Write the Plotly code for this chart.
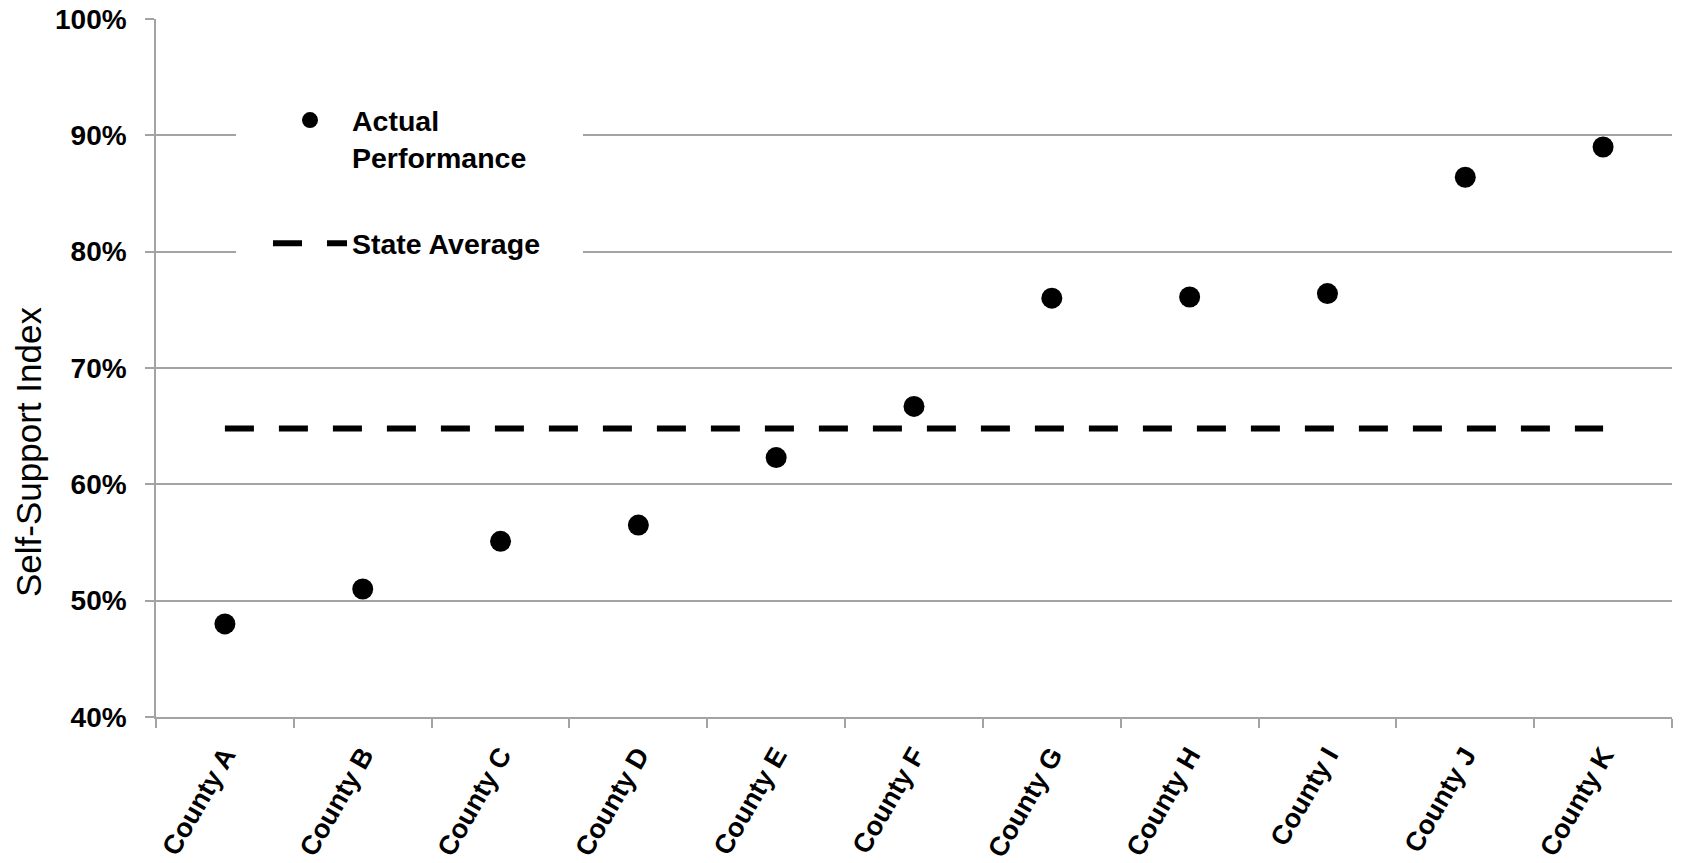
import plotly.graph_objects as go

# County labels and self-support index values (fractions)
counties = ["County A", "County B", "County C", "County D", "County E", "County F",
            "County G", "County H", "County I", "County J", "County K"]
actual_performance = [0.480, 0.510, 0.551, 0.565, 0.623, 0.667,
                      0.760, 0.761, 0.764, 0.864, 0.890]
state_average = 0.648

y_tickvals = [0.4, 0.5, 0.6, 0.7, 0.8, 0.9, 1.0]
y_ticktext = ["40%", "50%", "60%", "70%", "80%", "90%", "100%"]

FONT = "Liberation Sans, Arial, Helvetica, sans-serif"
GRID = "#a3a3a3"

# plot-area geometry in pixels, used to place the legend panel and axis title
PLOT_L, PLOT_W = 156, 1516
PLOT_T, PLOT_H = 19, 698

fig = go.Figure()

fig.add_trace(go.Scatter(
    x=counties,
    y=actual_performance,
    mode="markers",
    name="Actual<br>Performance",
    legendgroup="actual",
    marker=dict(color="black", size=21, symbol="circle"),
))

fig.add_trace(go.Scatter(
    x=counties,
    y=[state_average] * len(counties),
    mode="lines",
    name="State Average",
    legendgroup="state",
    line=dict(color="black", width=6, dash="29px,25px"),
))

# white panel behind the legend, hiding the gridlines there
fig.add_shape(
    type="rect", xref="paper", yref="y",
    x0=(236 - PLOT_L) / PLOT_W, x1=(583 - PLOT_L) / PLOT_W,
    y0=0.72, y1=0.955,
    fillcolor="white", line=dict(width=0), layer="above",
)

# vertical axis title
fig.add_annotation(
    text="Self-Support Index",
    xref="paper", yref="paper",
    x=(28 - PLOT_L) / PLOT_W, y=1 - (452 - PLOT_T) / PLOT_H,
    xanchor="center", yanchor="middle",
    textangle=-90, showarrow=False,
    font=dict(family=FONT, size=35, color="black"),
)

fig.update_layout(
    width=1683,
    height=863,
    template="none",
    paper_bgcolor="white",
    plot_bgcolor="white",
    margin=dict(l=PLOT_L, r=1683 - PLOT_L - PLOT_W, t=PLOT_T, b=863 - PLOT_T - PLOT_H),
    font=dict(family=FONT, color="black"),
    showlegend=True,
    legend=dict(
        x=(268 - PLOT_L) / PLOT_W,
        y=0.891,
        xanchor="left",
        yanchor="top",
        bgcolor="rgba(0,0,0,0)",
        font=dict(family=FONT, size=28.5, color="black", weight="bold"),
        itemwidth=74,
        valign="top",
        traceorder="grouped",
        tracegroupgap=46,
    ),
    xaxis=dict(
        type="category",
        range=[-0.5, len(counties) - 0.5],
        tickson="boundaries",
        ticks="outside",
        ticklen=9,
        tickwidth=1.5,
        tickcolor=GRID,
        showline=True,
        linecolor=GRID,
        linewidth=1.5,
        showgrid=False,
        zeroline=False,
        tickangle=-60,
        tickfont=dict(family=FONT, size=27, color="black", weight="bold"),
        ticklabelstandoff=10,
        automargin=False,
    ),
    yaxis=dict(
        range=[0.4, 1.0],
        tickvals=y_tickvals,
        ticktext=y_ticktext,
        ticks="outside",
        ticklen=9,
        tickwidth=1.5,
        tickcolor=GRID,
        showline=True,
        linecolor=GRID,
        linewidth=1.5,
        showgrid=True,
        gridcolor=GRID,
        gridwidth=1.5,
        zeroline=False,
        tickfont=dict(family=FONT, size=28, color="black", weight="bold"),
        ticklabelstandoff=13,
        automargin=False,
    ),
)

fig.write_html("out.html")
